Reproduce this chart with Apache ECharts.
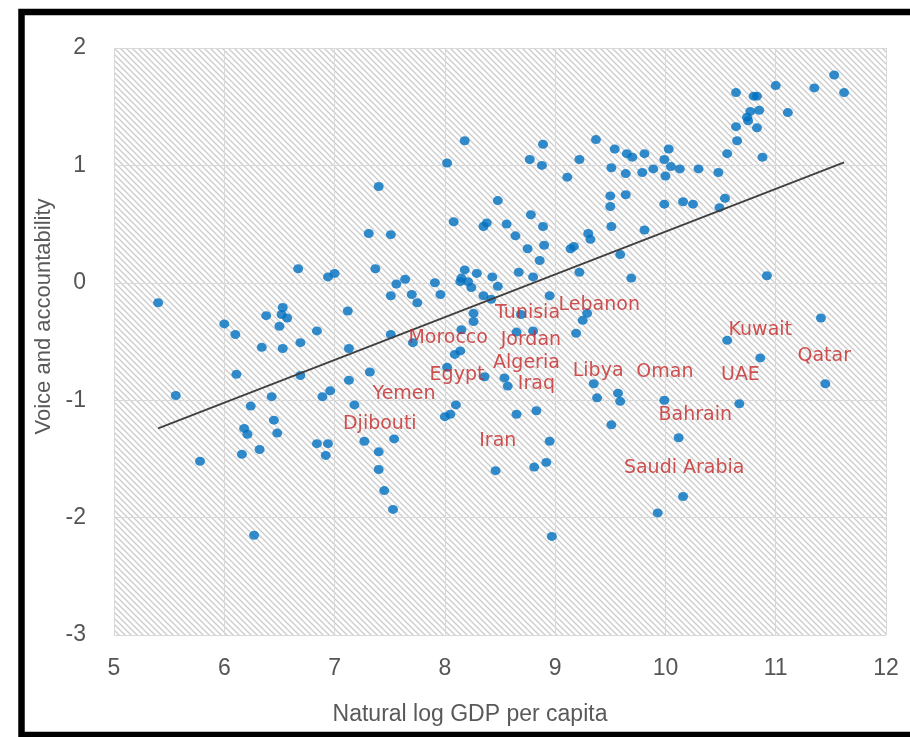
<!DOCTYPE html>
<html>
<head>
<meta charset="utf-8">
<style>
  html, body { margin: 0; padding: 0; background: #ffffff; }
  #chart { width: 910px; height: 737px; }
</style>
<script src="https://cdn.jsdelivr.net/npm/echarts@6/dist/echarts.min.js"></script>
</head>
<body>
<div id="chart"></div>
<script>
// Natural log of GDP per capita, one entry per country
const lnGdp = [
  8.18, 8.89, 8.02, 8.77, 8.88, 9.37, 9.54, 9.65, 9.70, 9.81,
  9.22, 9.11, 9.51, 9.64, 9.79, 7.40, 8.48, 9.50, 9.64, 9.50,
  8.78, 8.08, 8.35, 8.38, 8.56, 8.89, 8.64, 9.51, 9.81, 7.31,
  7.51, 9.30, 9.32, 8.90, 8.75, 9.17, 9.14, 9.59, 8.86, 7.37,
  8.18, 8.29, 8.43, 8.67, 8.80, 9.22, 7.64, 8.15, 9.69, 6.67,
  7.00, 6.94, 10.64, 10.80, 10.83, 11.00, 11.35, 11.53, 11.62, 11.11,
  10.77, 10.85, 10.74, 10.75, 10.64, 10.83, 10.65, 10.56, 10.88, 10.03,
  9.99, 10.05, 10.13, 9.89, 10.00, 10.30, 10.48, 9.99, 10.16, 10.25,
  10.54, 10.49, 10.92, 5.40, 6.00, 6.10, 6.38, 6.53, 6.52, 6.57,
  6.50, 6.84, 7.12, 6.34, 6.53, 6.69, 7.13, 6.11, 6.69, 7.32,
  7.13, 5.56, 6.43, 6.89, 6.96, 6.24, 7.18, 6.45, 6.18, 6.21,
  6.48, 6.84, 6.94, 6.92, 6.32, 6.16, 7.27, 7.40, 7.40, 5.78,
  6.27, 7.56, 7.91, 7.96, 8.14, 8.21, 8.24, 8.48, 7.51, 7.70,
  7.75, 8.35, 8.42, 8.95, 8.26, 8.26, 8.69, 9.29, 9.25, 7.51,
  7.71, 8.15, 8.65, 8.80, 9.19, 8.14, 8.09, 8.02, 8.36, 8.54,
  8.57, 9.35, 9.57, 9.59, 9.38, 8.10, 8.05, 8.00, 8.65, 8.83,
  9.51, 7.54, 8.95, 7.45, 8.46, 8.81, 8.92, 7.53, 8.97, 11.41,
  10.56, 10.86, 11.45, 9.99, 10.67, 10.12, 10.16, 9.93
];

// Voice and accountability score, same order as lnGdp
const voice = [
  1.21, 1.18, 1.02, 1.05, 1.00, 1.22, 1.14, 1.10, 1.07, 1.10,
  1.05, 0.90, 0.98, 0.93, 0.94, 0.82, 0.70, 0.74, 0.75, 0.65,
  0.58, 0.52, 0.48, 0.51, 0.50, 0.48, 0.40, 0.48, 0.45, 0.42,
  0.41, 0.42, 0.37, 0.32, 0.29, 0.31, 0.29, 0.24, 0.19, 0.12,
  0.11, 0.08, 0.05, 0.09, 0.05, 0.09, 0.03, 0.04, 0.04, 0.12,
  0.08, 0.05, 1.62, 1.59, 1.59, 1.68, 1.66, 1.77, 1.62, 1.45,
  1.46, 1.47, 1.41, 1.38, 1.33, 1.32, 1.21, 1.10, 1.07, 1.14,
  1.05, 0.99, 0.97, 0.97, 0.91, 0.97, 0.94, 0.67, 0.69, 0.67,
  0.72, 0.64, 0.06, -0.17, -0.35, -0.44, -0.28, -0.21, -0.27, -0.30,
  -0.37, -0.41, -0.24, -0.55, -0.56, -0.51, -0.56, -0.78, -0.79, -0.76,
  -0.83, -0.96, -0.97, -0.97, -0.92, -1.05, -1.04, -1.17, -1.24, -1.29,
  -1.28, -1.37, -1.37, -1.47, -1.42, -1.46, -1.35, -1.44, -1.59, -1.52,
  -2.15, -0.01, 0.00, -0.10, 0.01, 0.01, -0.04, -0.03, -0.11, -0.10,
  -0.17, -0.11, -0.14, -0.11, -0.26, -0.33, -0.27, -0.26, -0.32, -0.44,
  -0.51, -0.40, -0.42, -0.41, -0.43, -0.58, -0.61, -0.72, -0.80, -0.81,
  -0.88, -0.86, -0.94, -1.01, -0.98, -1.04, -1.12, -1.14, -1.12, -1.09,
  -1.21, -1.33, -1.35, -1.77, -1.60, -1.57, -1.53, -1.93, -2.16, -0.30,
  -0.49, -0.64, -0.86, -1.00, -1.03, -1.32, -1.82, -1.96
];

// MENA country annotations, anchored in data units (lnGdp, voice)
const labelNames = ['Tunisia', 'Lebanon', 'Morocco', 'Jordan', 'Algeria', 'Egypt', 'Iraq',
  'Libya', 'Oman', 'Yemen', 'Djibouti', 'Iran', 'Kuwait', 'Qatar', 'UAE', 'Bahrain', 'Saudi Arabia'];
const labelX = [8.75, 9.40, 8.03, 8.78, 8.74, 8.11, 8.83,
  9.39, 9.995, 7.63, 7.41, 8.48, 10.86, 11.44, 10.68, 10.27, 10.17];
const labelY = [-0.26, -0.19, -0.47, -0.49, -0.68, -0.79, -0.86,
  -0.75, -0.76, -0.95, -1.20, -1.35, -0.40, -0.62, -0.79, -1.13, -1.58];

// Axis ranges
const xMin = 5, xMax = 12, xStep = 1;
const yMin = -3, yMax = 2, yStep = 1;

// Ordinary least squares fit of voice on lnGdp
function linearFit(xs, ys) {
  const n = xs.length;
  let sx = 0, sy = 0, sxx = 0, sxy = 0;
  for (let i = 0; i < n; i++) {
    sx += xs[i]; sy += ys[i];
    sxx += xs[i] * xs[i]; sxy += xs[i] * ys[i];
  }
  const slope = (n * sxy - sx * sy) / (n * sxx - sx * sx);
  const intercept = (sy - slope * sx) / n;
  return { slope, intercept };
}
const fit = linearFit(lnGdp, voice);
const fitX0 = Math.min.apply(null, lnGdp);
const fitX1 = Math.max.apply(null, lnGdp);
const trend = [
  [fitX0, fit.intercept + fit.slope * fitX0],
  [fitX1, fit.intercept + fit.slope * fitX1]
];

const points = lnGdp.map((x, i) => [x, voice[i]]);
const labels = labelNames.map((name, i) => ({ name: name, value: [labelX[i], labelY[i]] }));

// Diagonal hatch used as the plot background
function hatchTile() {
  const size = 6;
  const c = document.createElement('canvas');
  c.width = size; c.height = size;
  const g = c.getContext('2d');
  g.fillStyle = '#ffffff';
  g.fillRect(0, 0, size, size);
  g.strokeStyle = '#cbcbcb';
  g.lineWidth = 1.3;
  g.beginPath();
  g.moveTo(-1, -1); g.lineTo(size + 1, size + 1);
  g.moveTo(-1, size - 1); g.lineTo(1, size + 1);
  g.moveTo(size - 1, -1); g.lineTo(size + 1, 1);
  g.stroke();
  return c;
}

const tickFont = 'Liberation Sans, Arial, sans-serif';
const chart = echarts.init(document.getElementById('chart'), null, { renderer: 'canvas' });

chart.setOption({
  animation: false,
  backgroundColor: '#ffffff',
  grid: {
    left: 114, right: 24, top: 48, bottom: 102,
    show: true,
    backgroundColor: { image: hatchTile(), repeat: 'repeat' },
    borderWidth: 0
  },
  xAxis: {
    type: 'value',
    min: xMin, max: xMax, interval: xStep,
    name: 'Natural log GDP per capita',
    nameLocation: 'middle',
    nameGap: 68,
    nameTextStyle: { color: '#595959', fontSize: 23, fontFamily: tickFont, padding: [0, 60, 0, 0] },
    axisLine: { show: false },
    axisTick: { show: false },
    axisLabel: { color: '#555555', fontSize: 23, margin: 22, fontFamily: tickFont },
    splitLine: { show: true, lineStyle: { color: '#d9d9d9', width: 1 } }
  },
  yAxis: {
    type: 'value',
    min: yMin, max: yMax, interval: yStep,
    name: 'Voice and accountability',
    nameLocation: 'middle',
    nameGap: 55,
    nameTextStyle: { color: '#595959', fontSize: 22, fontFamily: tickFont, padding: [0, 0, 0, 50] },
    axisLine: { show: false },
    axisTick: { show: false },
    axisLabel: { color: '#555555', fontSize: 23, margin: 28, fontFamily: tickFont },
    splitLine: { show: true, lineStyle: { color: '#d9d9d9', width: 1 } }
  },
  series: [
    {
      type: 'scatter',
      data: points,
      symbol: 'circle',
      symbolSize: [10, 9],
      itemStyle: { color: '#0070c0' },
      z: 3
    },
    {
      type: 'line',
      data: trend,
      symbol: 'none',
      lineStyle: { color: '#404040', width: 1.8 },
      z: 4
    },
    {
      type: 'scatter',
      data: labels,
      symbolSize: 0,
      silent: true,
      label: {
        show: true,
        position: 'inside',
        formatter: '{b}',
        color: '#c62828',
        fontSize: 19,
        fontFamily: 'DejaVu Sans, Verdana, sans-serif'
      },
      z: 5
    }
  ],
  graphic: [
    {
      type: 'rect',
      shape: { x: 21.5, y: 12, width: 1000, height: 723 },
      style: { fill: 'none', stroke: '#000000', lineWidth: 6.5 },
      z: 100
    }
  ]
});
</script>
</body>
</html>
